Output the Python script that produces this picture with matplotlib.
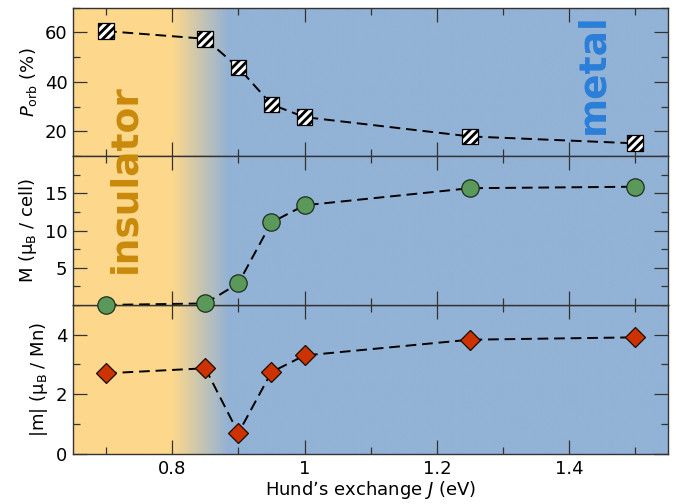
import numpy as np
import matplotlib
matplotlib.use("Agg")
import matplotlib.pyplot as plt
from matplotlib.ticker import FixedLocator
from matplotlib.transforms import blended_transform_factory

# Hund's exchange values (eV)
J = [0.7, 0.85, 0.9, 0.95, 1.0, 1.25, 1.5]
# orbital polarisation (%)
p_orb = [60.5, 57.4, 45.8, 30.9, 25.8, 18.0, 15.2]
# total moment per cell (mu_B)
m_cell = [0.0, 0.2, 2.9, 11.1, 13.4, 15.7, 15.9]
# local moment per Mn (mu_B)
m_mn = [2.70, 2.87, 0.69, 2.74, 3.30, 3.83, 3.91]

x_ticks = [0.8, 1.0, 1.2, 1.4]
x_ticklabels = ["0.8", "1", "1.2", "1.4"]

plt.rcParams["font.family"] = ["DejaVu Sans"]
plt.rcParams["mathtext.fontset"] = "dejavusans"
plt.rcParams["hatch.linewidth"] = 2.0
plt.rcParams["hatch.color"] = "black"

ORANGE = np.array([253, 216, 140]) / 255
BLUE = np.array([146, 178, 214]) / 255
XMIN, XMAX = 0.65, 1.55

fig = plt.figure(figsize=(6.82, 5.04), dpi=100)
gs = fig.add_gridspec(3, 1, left=0.107, right=0.98, top=0.985, bottom=0.1,
                      hspace=0.0)
ax1 = fig.add_subplot(gs[0])
ax2 = fig.add_subplot(gs[1], sharex=ax1)
ax3 = fig.add_subplot(gs[2], sharex=ax1)

# insulator -> metal colour ramp along J
xs = np.linspace(XMIN, XMAX, 900)
t = np.clip((xs - 0.80) / (0.885 - 0.80), 0, 1)
ramp = (ORANGE[None, :] * (1 - t[:, None]) + BLUE[None, :] * t[:, None])[None, :, :]

ylims = [(10, 70), (0, 20), (0, 5)]
for ax, (y0, y1) in zip((ax1, ax2, ax3), ylims):
    ax.imshow(ramp, extent=[XMIN, XMAX, y0, y1], aspect="auto",
              interpolation="bilinear", zorder=0)
    ax.set_xlim(XMIN, XMAX)
    ax.set_ylim(y0, y1)
    ax.patch.set_alpha(0)
    for sp in ax.spines.values():
        sp.set_color("#333333")
        sp.set_linewidth(1.0)
    ax.tick_params(which="both", direction="in", top=True, right=True,
                   color="#333333", width=0.9, labelsize=13, pad=4)
    ax.tick_params(which="major", length=10)
    ax.tick_params(which="minor", length=5)
    ax.xaxis.set_major_locator(FixedLocator(x_ticks))
    ax.xaxis.set_minor_locator(FixedLocator([0.7, 0.9, 1.1, 1.3, 1.5]))

ax2.set_zorder(3)
ax1.set_zorder(2)
ax3.set_zorder(1)

dash = dict(color="black", lw=1.4, dashes=(5.5, 3.0), zorder=2)

# orbital polarisation
ax1.plot(J, p_orb, **dash)
ax1.scatter(J, p_orb, marker="s", s=128, facecolor="white",
            edgecolor="black", hatch="////", linewidths=0.9, zorder=3)
ax1.yaxis.set_major_locator(FixedLocator([20, 40, 60]))
ax1.yaxis.set_minor_locator(FixedLocator([10, 30, 50, 70]))
ax1.set_ylabel(r"$P_{\rm orb}$ (%)", fontsize=13)

# total moment
ax2.plot(J, m_cell, clip_on=False, **dash)
ax2.plot(J, m_cell, "o", ms=12.5, mfc="#5a995a", mec="#1e2e1e", mew=0.9,
         clip_on=False, zorder=3)
ax2.yaxis.set_major_locator(FixedLocator([5, 10, 15]))
ax2.yaxis.set_minor_locator(FixedLocator([2.5, 7.5, 12.5, 17.5]))
ax2.set_ylabel(r"M (μ$_{\rm B}$ / cell)", fontsize=13)

# local moment
ax3.plot(J, m_mn, **dash)
ax3.plot(J, m_mn, "D", ms=10, mfc="#cc3300", mec="#1a0a00", mew=0.9,
         zorder=3)
ax3.yaxis.set_major_locator(FixedLocator([0, 2, 4]))
ax3.yaxis.set_minor_locator(FixedLocator([1, 3, 5]))
ax3.set_ylabel(r"|m| (μ$_{\rm B}$ / Mn)", fontsize=13)

for ax in (ax1, ax2):
    ax.tick_params(labelbottom=False)
ax3.set_xticks(x_ticks)
ax3.set_xticklabels(x_ticklabels)
ax3.tick_params(axis="x", pad=4.5)
ax3.set_xlabel(r"Hund’s exchange $J$ (eV)", fontsize=13, labelpad=0.5)

# phase labels
trans = blended_transform_factory(ax1.transData, fig.transFigure)
fig.text(0.729, 1 - 179 / 504, "insulator", transform=trans, rotation=90,
         ha="center", va="center", fontsize=27, fontweight="bold",
         color="#c98a0c", zorder=10)
ax1.text(1.436, 1 - 73.5 / 504, "metal", transform=trans, rotation=90,
         ha="center", va="center", fontsize=27, fontweight="bold",
         color="#2b7fd9", zorder=10)

fig.savefig("out.png", dpi=100)
